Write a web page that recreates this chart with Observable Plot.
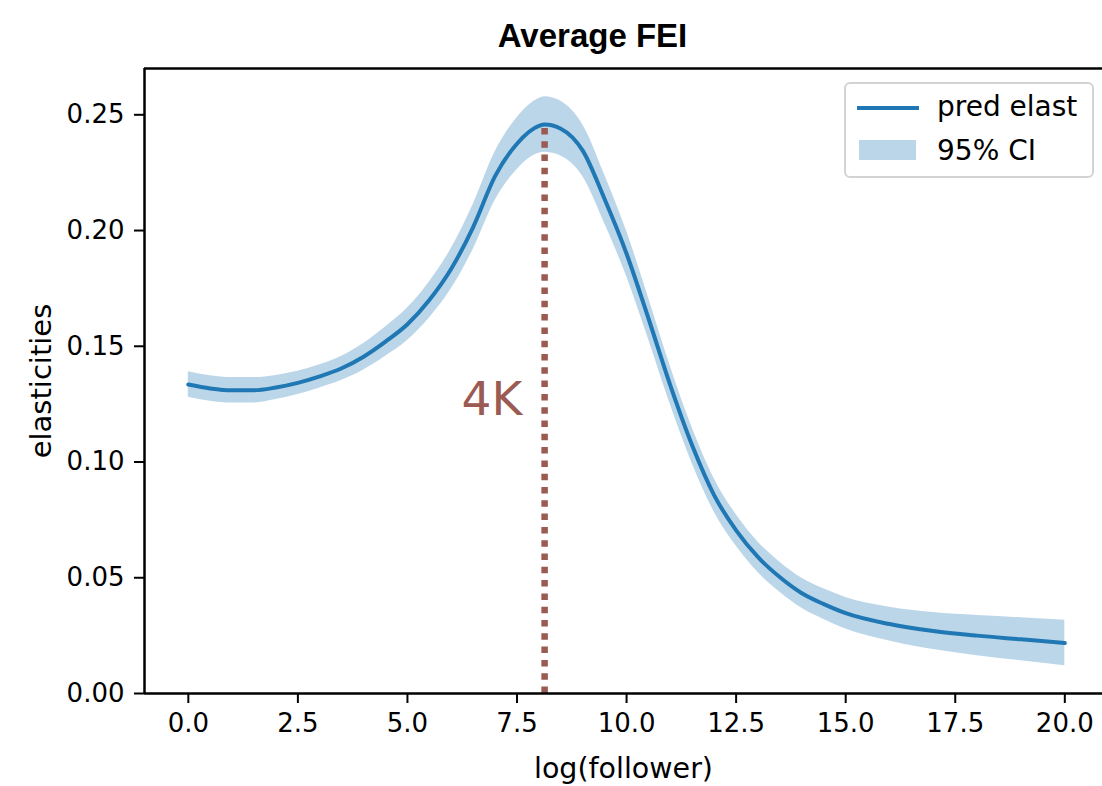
<!DOCTYPE html>
<html>
<head>
<meta charset="utf-8">
<script src="https://cdn.jsdelivr.net/npm/d3@7"></script>
<script src="https://cdn.jsdelivr.net/npm/@observablehq/plot@0.6"></script>
<style>
  html, body { margin: 0; padding: 0; background: white; }
  #wrap { position: relative; width: 1102px; height: 786px; overflow: hidden; }
  #legend { position: absolute; left: 844px; top: 82px; width: 246px; height: 92px;
    border: 2px solid #d3d3d3; border-radius: 6px; background: rgba(255,255,255,0.85);
    font-family: "DejaVu Sans", sans-serif; font-size: 28px; color: #000; }
  .swline { position: absolute; left: 11px; width: 62px; height: 4px; background: #1f77b4; }
  .swpatch { position: absolute; left: 13px; width: 57px; height: 20px; background: #1f77b4; opacity: 0.3; }
  .lab { position: absolute; left: 91px; white-space: nowrap; line-height: 1; }
</style>
</head>
<body>
<div id="wrap"></div>
<script>
// ---- data ----
const logFollower = [0, 0.5, 1, 1.5, 2, 2.5, 3, 3.5, 4, 4.5, 5, 5.5, 6, 6.5, 7, 7.5, 8, 8.13, 8.5, 9, 9.5, 10, 10.5, 11, 11.5, 12, 12.5, 13, 13.5, 14, 14.5, 15, 16, 17, 18, 19, 20];
const predElast   = [0.1335, 0.1318, 0.131, 0.131, 0.1322, 0.1342, 0.137, 0.1405, 0.1455, 0.152, 0.1595, 0.170, 0.1835, 0.2015, 0.2235, 0.2375, 0.2452, 0.2458, 0.2440, 0.2345, 0.2135, 0.190, 0.162, 0.133, 0.107, 0.0856, 0.0705, 0.0589, 0.0502, 0.0433, 0.0386, 0.0347, 0.030, 0.027, 0.025, 0.0234, 0.0218];
const ciLower     = [0.128, 0.1263, 0.1255, 0.1255, 0.127, 0.1292, 0.132, 0.1353, 0.1398, 0.1457, 0.1525, 0.1622, 0.1748, 0.1918, 0.213, 0.2263, 0.2334, 0.2338, 0.2322, 0.2233, 0.203, 0.1802, 0.153, 0.1247, 0.0993, 0.0784, 0.0637, 0.0523, 0.0437, 0.0368, 0.032, 0.0279, 0.0227, 0.019, 0.0163, 0.0141, 0.012];
const ciUpper     = [0.139, 0.1373, 0.1365, 0.1365, 0.1374, 0.1392, 0.142, 0.1457, 0.1512, 0.1583, 0.1665, 0.1778, 0.1922, 0.2112, 0.234, 0.2487, 0.257, 0.2578, 0.2558, 0.2457, 0.224, 0.1998, 0.171, 0.1413, 0.1147, 0.0928, 0.0773, 0.0655, 0.0567, 0.0498, 0.0452, 0.0415, 0.0373, 0.035, 0.0337, 0.0327, 0.0316];
const peakX = 8.13;
const peakY = 0.2458;
const peakLabel = "4K";
const xTicks = [0, 2.5, 5, 7.5, 10, 12.5, 15, 17.5, 20];
const yTicks = [0, 0.05, 0.10, 0.15, 0.20, 0.25];
const titleText = "Average FEI";
const xLabel = "log(follower)";
const yLabel = "elasticities";
const legendLabels = ["pred elast", "95% CI"];

const rows = logFollower.map((x, i) => ({x, y: predElast[i], lo: ciLower[i], hi: ciUpper[i]}));

const blue = "#1f77b4";
const brown = "#9b5a52";
const font = "DejaVu Sans, sans-serif";

const chart = Plot.plot({
  width: 1102,
  height: 786,
  marginLeft: 144,
  marginRight: 0,
  marginTop: 68,
  marginBottom: 93,
  style: {fontFamily: font, fontSize: "26px", color: "#000", background: "white", overflow: "hidden"},
  x: {domain: [-1, 20.86]},
  y: {domain: [0, 0.27]},
  marks: [
    Plot.areaY(rows, {x: "x", y1: "lo", y2: "hi", fill: blue, fillOpacity: 0.3, curve: "monotone-x"}),
    Plot.line(rows, {x: "x", y: "y", stroke: blue, strokeWidth: 4, curve: "monotone-x"}),
    Plot.ruleX([peakX], {y1: 0, y2: peakY, stroke: brown, strokeWidth: 6.5, strokeDasharray: "6.5,6.8"}),
    Plot.text([peakLabel], {x: 7.62, y: 0.1266, text: d => d, textAnchor: "end", fill: brown, fontSize: 47, fontFamily: font}),
    Plot.text([titleText], {frameAnchor: "top", dx: -31, dy: -45, text: d => d, fontSize: 33, fontWeight: "bold", fontFamily: "Liberation Sans, Arial, sans-serif", fill: "#000"}),
    Plot.axisX({ticks: xTicks, tickFormat: ".1f", tickSize: 10, tickPadding: 10, strokeWidth: 2, fontSize: 26, label: null}),
    Plot.axisX({ticks: [], label: xLabel, labelAnchor: "center", labelArrow: "none", labelOffset: 84, fontSize: 28.5, tickSize: 0}),
    Plot.axisY({ticks: yTicks, tickFormat: ".2f", tickSize: 10, tickPadding: 10, strokeWidth: 2, fontSize: 26, label: null}),
    Plot.axisY({ticks: [], label: yLabel, labelAnchor: "center", labelArrow: "none", labelOffset: 114, fontSize: 29, tickSize: 0}),
    Plot.ruleX([-1], {stroke: "#000", strokeWidth: 2.5}),
    Plot.ruleY([0], {stroke: "#000", strokeWidth: 2.5}),
    Plot.ruleY([0.27], {stroke: "#000", strokeWidth: 2.5})
  ]
});

const wrap = document.getElementById("wrap");
wrap.appendChild(chart);

const legend = document.createElement("div");
legend.id = "legend";
legend.innerHTML = `
  <div class="swline" style="top:22px"></div>
  <div class="lab" style="top:9px">${legendLabels[0]}</div>
  <div class="swpatch" style="top:56px"></div>
  <div class="lab" style="top:53px">${legendLabels[1]}</div>`;
wrap.appendChild(legend);
</script>
</body>
</html>
